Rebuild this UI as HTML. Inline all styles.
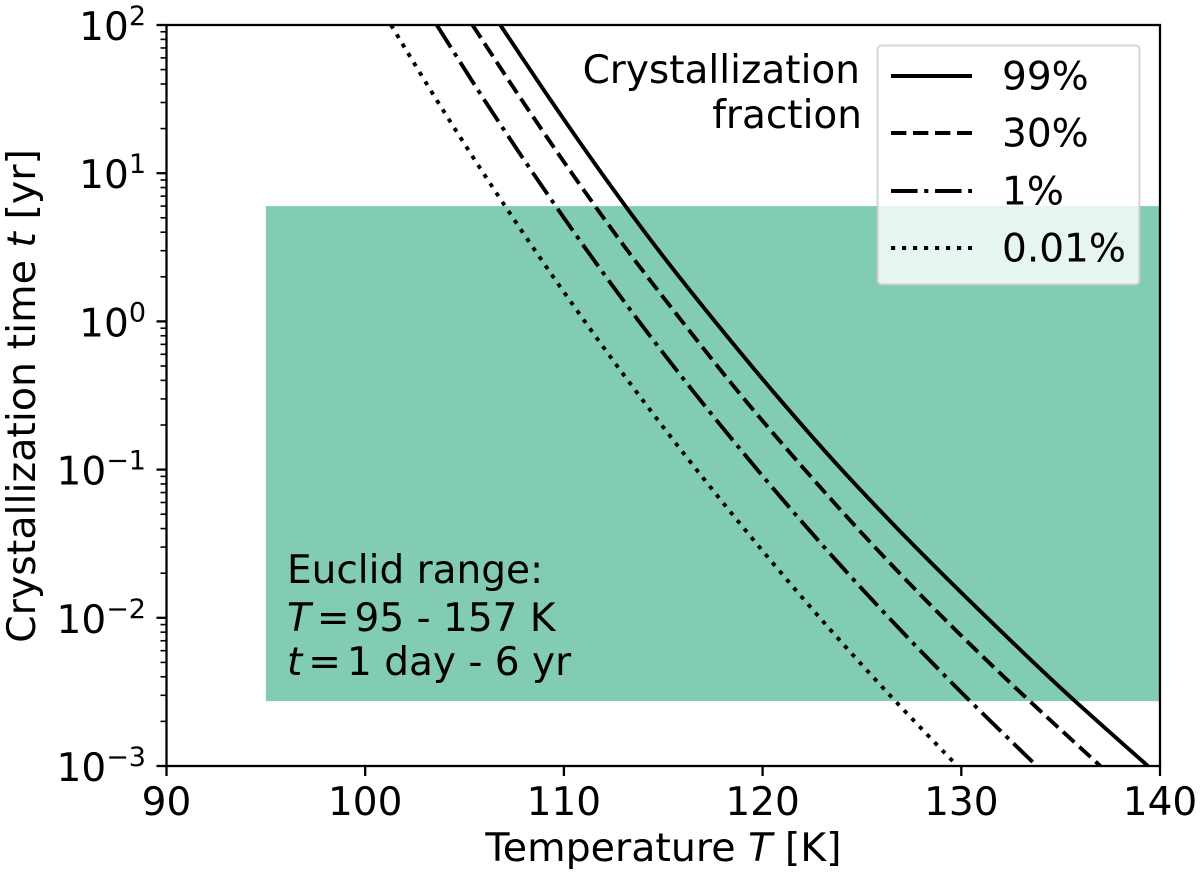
<!DOCTYPE html>
<html lang="en">
<head>
<meta charset="utf-8">
<title>Crystallization time vs temperature</title>
<style>
html,body{margin:0;padding:0;background:#fff;width:1200px;height:875px;overflow:hidden}
svg{display:block}
text{font-family:"DejaVu Sans","Liberation Sans",sans-serif;fill:#000;font-size:39px}
text.axis-title{font-size:39.5px}
</style>
</head>
<body>
<svg id="chart" width="1200" height="875" viewBox="0 0 1200 875" xmlns="http://www.w3.org/2000/svg">
  <defs><clipPath id="plot-clip"><rect x="166.5" y="25" width="993.5" height="741"/></clipPath></defs>
  <rect id="euclid-band" fill="#82ccb3"/>
  <g id="curves" clip-path="url(#plot-clip)"></g>
  <rect x="166.5" y="25" width="993.5" height="741" fill="none" stroke="#000" stroke-width="2.3"/>
  <g id="ticks"></g>
  <text class="axis-title" x="663.5" y="861" text-anchor="middle">Temperature <tspan font-style="italic">T</tspan> [K]</text>
  <text class="axis-title" transform="translate(35,396) rotate(-90)" text-anchor="middle">Crystallization time <tspan font-style="italic">t</tspan> [yr]</text>
  <g>
    <text x="287" y="583">Euclid range:</text>
    <text x="287" y="631"><tspan font-style="italic">T</tspan><tspan dx="6">=</tspan><tspan dx="5">95 - 157 K</tspan></text>
    <text x="287" y="675"><tspan font-style="italic">t</tspan><tspan dx="6">=</tspan><tspan dx="6">1 day - 6 yr</tspan></text>
  </g>
  <g>
    <text x="860" y="83" text-anchor="end">Crystallization</text>
    <text x="862" y="128" text-anchor="end">fraction</text>
  </g>
  <g id="legend">
    <rect x="877.5" y="45.5" width="262" height="239" rx="4" ry="4" fill="#fff" fill-opacity="0.8" stroke="#ccc" stroke-opacity="0.8" stroke-width="2"/>
  </g>
</svg>
<script>
// Chart data
const timeLevels = [100, 31.6, 10, 3.16, 1, 0.316, 0.1, 0.0316, 0.01, 0.00316, 0.001];
const temps99 = [106.8, 109.3, 111.9, 114.65, 117.6, 120.7, 123.98, 127.53, 131.3, 135.22, 139.39];
const temps30 = [105.4, 107.85, 110.4, 113.08, 115.95, 118.93, 122.12, 125.49, 129.09, 132.95, 137.0];
const temps1 = [103.6, 105.97, 108.45, 111.05, 113.78, 116.68, 119.73, 122.95, 126.36, 129.98, 133.8];
const temps001 = [101.3, 103.57, 105.95, 108.44, 111.05, 113.79, 116.67, 119.7, 122.88, 126.25, 129.8];
const seriesLabels = ['99%', '30%', '1%', '0.01%'];
const xTickLabels = [90, 100, 110, 120, 130, 140];
const yTickExponents = [-3, -2, -1, 0, 1, 2];
const euclidTempMin = 95;
const euclidTimeMin = 0.00274;
const euclidTimeMax = 6;

const NS = 'http://www.w3.org/2000/svg';
const X0 = 166.5, X1 = 1160, Y0 = 766, Y1 = 25;
const xMin = 90, xMax = 140, logMin = -3, logMax = 2;
const LW = 3.9, DASH = 4.15;
function xScale(T) { return X0 + (T - xMin) / (xMax - xMin) * (X1 - X0); }
function yScale(t) { return Y0 + (Math.log10(t) - logMin) / (logMax - logMin) * (Y1 - Y0); }

function make(tag, attrs, parent) {
  const el = document.createElementNS(NS, tag);
  for (const k in attrs) el.setAttribute(k, attrs[k]);
  parent.appendChild(el);
  return el;
}

// Band
const band = document.getElementById('euclid-band');
band.setAttribute('x', xScale(euclidTempMin));
band.setAttribute('y', yScale(euclidTimeMax));
band.setAttribute('width', xScale(xMax) - xScale(euclidTempMin));
band.setAttribute('height', yScale(euclidTimeMin) - yScale(euclidTimeMax));

// Curves
function smoothPath(pts) {
  let d = 'M' + pts[0][0].toFixed(2) + ' ' + pts[0][1].toFixed(2);
  for (let i = 0; i < pts.length - 1; i++) {
    const p0 = pts[Math.max(0, i - 1)], p1 = pts[i], p2 = pts[i + 1], p3 = pts[Math.min(pts.length - 1, i + 2)];
    const c1x = p1[0] + (p2[0] - p0[0]) / 6, c1y = p1[1] + (p2[1] - p0[1]) / 6;
    const c2x = p2[0] - (p3[0] - p1[0]) / 6, c2y = p2[1] - (p3[1] - p1[1]) / 6;
    d += 'C' + c1x.toFixed(2) + ' ' + c1y.toFixed(2) + ' ' + c2x.toFixed(2) + ' ' + c2y.toFixed(2) + ' ' + p2[0].toFixed(2) + ' ' + p2[1].toFixed(2);
  }
  return d;
}
const dashes = ['none',
  (3.7 * DASH) + ' ' + (1.6 * DASH),
  (6.4 * DASH) + ' ' + (1.6 * DASH) + ' ' + DASH + ' ' + (1.6 * DASH),
  DASH + ' ' + (1.65 * DASH)];
const allTemps = [temps99, temps30, temps1, temps001];
const curves = document.getElementById('curves');
allTemps.forEach(function (temps, s) {
  const pts = temps.map(function (T, i) { return [xScale(T), yScale(timeLevels[i])]; });
  const path = make('path', {d: smoothPath(pts), fill: 'none', stroke: '#000', 'stroke-width': LW, 'stroke-dasharray': dashes[s]}, curves);
  
  
});

// Ticks
const ticks = document.getElementById('ticks');
xTickLabels.forEach(function (v) {
  const x = xScale(v);
  const tick = make('line', {x1: x, x2: x, y1: Y0, y2: Y0 + 10, stroke: '#000', 'stroke-width': 2.3}, ticks);
  
  
  const label = make('text', {x: x, y: 815, 'text-anchor': 'middle'}, ticks);
  label.textContent = v;
  
  
});
yTickExponents.forEach(function (e) {
  const v = Math.pow(10, e);
  const y = yScale(v);
  const tick = make('line', {x1: X0 - 10, x2: X0, y1: y, y2: y, stroke: '#000', 'stroke-width': 2.3}, ticks);
  
  
  const label = make('text', {x: 146, y: y + 15, 'text-anchor': 'end'}, ticks);
  
  
  const base = make('tspan', {}, label);
  base.textContent = '10';
  const sup = make('tspan', {dy: -15, 'font-size': 27}, label);
  sup.textContent = String(e).replace('-', '\u2212');
  if (e < logMax) {
    for (let m = 2; m <= 9; m++) {
      const ym = yScale(m * v);
      const minor = make('line', {x1: X0 - 6, x2: X0, y1: ym, y2: ym, stroke: '#000', 'stroke-width': 1.6}, ticks);
      
      
    }
  }
});

// Legend entries
const legend = document.getElementById('legend');
const legendLineY = [76, 133, 191, 248];
seriesLabels.forEach(function (lab, s) {
  const g = make('g', {}, legend);
  
  
  const ln = make('line', {x1: 891, x2: 972, y1: legendLineY[s], y2: legendLineY[s], stroke: '#000', 'stroke-width': LW, 'stroke-dasharray': dashes[s]}, g);
  
  
  const t = make('text', {x: 1002, y: legendLineY[s] + 13.5}, g);
  t.textContent = lab;
  
  
});
</script>
</body>
</html>
